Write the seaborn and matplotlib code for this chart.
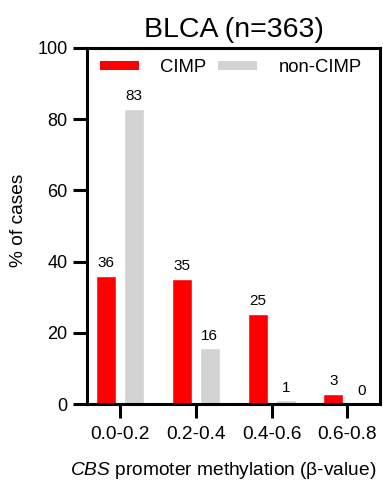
import matplotlib
matplotlib.use("Agg")
import matplotlib.pyplot as plt
import seaborn as sns
import pandas as pd
from matplotlib.patches import Patch

bins = ["0.0-0.2", "0.2-0.4", "0.4-0.6", "0.6-0.8"]
cimp = [36.0, 35.1, 25.3, 2.8]
non_cimp = [82.9, 15.7, 1.1, 0.0]
groups = ["CIMP", "non-CIMP"]
colors = {"CIMP": "#FF0000", "non-CIMP": "#D3D3D3"}
yticks = [0, 20, 40, 60, 80, 100]

df = pd.DataFrame({
    "bin": bins * 2,
    "pct": cimp + non_cimp,
    "group": [groups[0]] * len(bins) + [groups[1]] * len(bins),
})

sns.set_style("ticks")
plt.rcParams["font.family"] = ["Liberation Sans", "DejaVu Sans"]
plt.rcParams["mathtext.fontset"] = "custom"
plt.rcParams["mathtext.it"] = "Liberation Sans:italic"
plt.rcParams["mathtext.rm"] = "Liberation Sans"
plt.rcParams["text.color"] = "black"
plt.rcParams["axes.labelcolor"] = "black"
plt.rcParams["xtick.color"] = "black"
plt.rcParams["ytick.color"] = "black"

fig = plt.figure(figsize=(3.83, 4.86), dpi=100)
ax = fig.add_axes([87 / 383, 82 / 486, 293 / 383, 356 / 486])

sns.barplot(data=df, x="bin", y="pct", hue="group", order=bins, hue_order=groups,
            palette=colors, width=0.74, gap=0.286, saturation=1, ax=ax, legend=False)

for cont in ax.containers:
    ax.bar_label(cont, fmt="%.0f", padding=4, fontsize=11, color="black")

ax.set_xlim(-0.436, 3.43)
ax.set_ylim(0, 100)
ax.set_yticks(yticks)
ax.set_yticklabels([str(v) for v in yticks])

for s in ax.spines.values():
    s.set_linewidth(2.2)
    s.set_color("black")
    s.set_visible(True)

ax.tick_params(axis="both", width=2.2, length=10, color="black")
ax.tick_params(axis="y", pad=4, labelsize=13)
ax.tick_params(axis="x", pad=6, labelsize=13.8)

ax.set_ylabel("% of cases", fontsize=13.8)
ax.yaxis.set_label_coords(-0.205, 0.517)
ax.set_xlabel(r"$\mathit{CBS}$ promoter methylation (β-value)", fontsize=13.8)
ax.xaxis.set_label_coords(0.466, -0.157)
ax.set_title("BLCA (n=363)", fontsize=20.5, pad=8)

handles = [Patch(facecolor=colors[g], edgecolor="none") for g in groups]
ax.legend(handles, groups, loc="upper left", bbox_to_anchor=(0.006, 1.0), ncol=2,
          frameon=False, fontsize=13.3, handlelength=2.1, handleheight=0.44,
          handletextpad=1.16, columnspacing=0.66, borderaxespad=0.2)

fig.savefig("out.png", dpi=100)
